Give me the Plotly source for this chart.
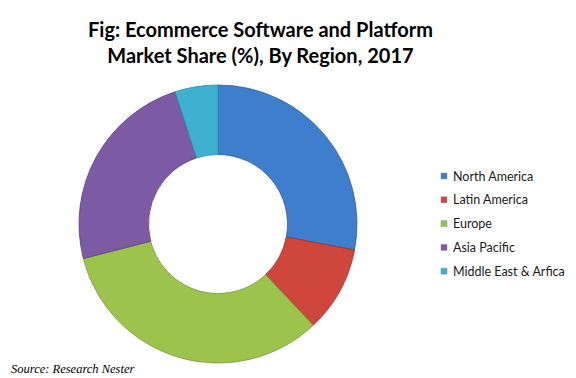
import plotly.graph_objects as go

# Market share by region, 2017 (%)
regions = ["North America", "Latin America", "Europe", "Asia Pacific", "Middle East & Arfica"]
shares = [28, 10, 33, 24, 5]
colors = ["#3F7ECC", "#CF463D", "#9CC44D", "#7C5AA4", "#3DB1CF"]
edge_colors = ["#2E5E9C", "#9C302A", "#76963A", "#5B4080", "#2B8AA3"]

title_lines = ["Fig: Ecommerce Software and Platform", "Market Share (%), By Region, 2017"]
source_text = "Source: Research Nester"

W, H = 576, 378

fig = go.Figure()
fig.add_trace(go.Pie(
    labels=regions,
    values=shares,
    hole=0.5,
    sort=False,
    direction="clockwise",
    rotation=0,
    textinfo="none",
    hoverinfo="label+percent",
    marker=dict(colors=colors, line=dict(color=edge_colors, width=0.8)),
    domain=dict(x=[79 / W, 357 / W], y=[1 - 363 / H, 1 - 85 / H]),
    showlegend=False,
))

# Legend drawn as swatches and labels
shapes = []
annotations = []
y0, dy = 176, 23.8
for i, (name, col) in enumerate(zip(regions, colors)):
    yc = y0 + i * dy
    shapes.append(dict(
        type="rect", xref="paper", yref="paper",
        x0=441 / W, x1=447 / W, y0=1 - (yc + 3) / H, y1=1 - (yc - 3) / H,
        fillcolor=col, line=dict(color="#7F8FA6", width=0.5),
    ))
    annotations.append(dict(
        text=name, xref="paper", yref="paper", x=451 / W, y=1 - yc / H,
        xanchor="left", yanchor="middle", showarrow=False,
        font=dict(family="Lato", size=12.5, color="#1A1A1A"),
    ))

# Two-line bold title
annotations.append(dict(
    text="<b>" + "<br>".join(title_lines) + "</b>", xref="paper", yref="paper",
    x=260 / W, y=1 - 42 / H, xanchor="center", yanchor="middle",
    showarrow=False, align="center",
    font=dict(family="Lato", size=20, color="#000000"),
))

annotations.append(dict(
    text="<i>" + source_text + "</i>", xref="paper", yref="paper",
    x=9 / W, y=1 - 369 / H, xanchor="left", yanchor="middle", showarrow=False,
    font=dict(family="Liberation Serif, Times New Roman, serif", size=12.5, color="#000000"),
))

fig.update_layout(
    width=W, height=H, autosize=False,
    margin=dict(l=0, r=0, t=0, b=0),
    paper_bgcolor="white", plot_bgcolor="white",
    shapes=shapes, annotations=annotations,
)

fig.write_html("out.html")
